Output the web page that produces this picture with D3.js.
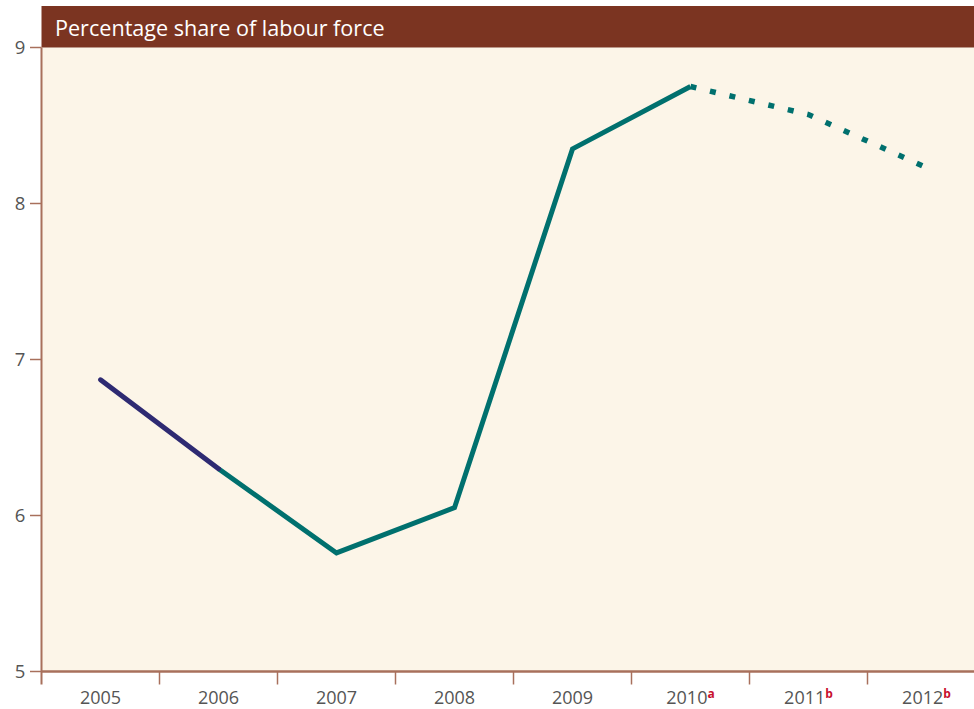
<!DOCTYPE html>
<html>
<head>
<meta charset="utf-8">
<script src="https://cdn.jsdelivr.net/npm/d3@7"></script>
<style>
  body { margin: 0; background: #fff; }
  svg { display: block; }
</style>
</head>
<body>
<div id="chart"></div>
<script>
// data
var years  = ["2005", "2006", "2007", "2008", "2009", "2010", "2011", "2012"];
var notes  = ["", "", "", "", "", "a", "b", "b"];
var values = [6.87, 6.30, 5.76, 6.05, 8.35, 8.75, 8.57, 8.23];
var yTicks = [5, 6, 7, 8, 9];
var title  = "Percentage share of labour force";

var width = 974, height = 709;
var plotLeft = 41.5, plotTop = 47.5, plotBottom = 671.5;

var svg = d3.select("#chart").append("svg")
  .attr("width", width)
  .attr("height", height);

var x = d3.scaleBand().domain(years).range([plotLeft, plotLeft + 118 * years.length]);
var y = d3.scaleLinear().domain([5, 9]).range([plotBottom, plotTop]);
var cx = function(d) { return x(d) + x.bandwidth() / 2; };

var axisColor = "#a8705c";
var textColor = "#555555";
var font = "'Open Sans', 'Noto Sans', sans-serif";

// plot background
svg.append("rect")
  .attr("x", plotLeft).attr("y", plotTop)
  .attr("width", width - plotLeft).attr("height", plotBottom - plotTop)
  .attr("fill", "#fcf5e8");

// title banner
svg.append("rect")
  .attr("x", plotLeft).attr("y", 6)
  .attr("width", width - plotLeft).attr("height", plotTop - 6)
  .attr("fill", "#7b3421");
svg.append("text")
  .attr("x", 55).attr("y", 36)
  .attr("fill", "#ffffff")
  .attr("font-family", font)
  .attr("font-size", 21.6)
  .text(title);

// y axis
svg.append("line")
  .attr("x1", plotLeft).attr("x2", plotLeft)
  .attr("y1", plotTop).attr("y2", plotBottom + 13)
  .attr("stroke", axisColor).attr("stroke-width", 2);
svg.selectAll("line.ytick")
  .data(yTicks)
  .join("line")
  .attr("class", "ytick")
  .attr("x1", 30).attr("x2", plotLeft)
  .attr("y1", d => y(d)).attr("y2", d => y(d))
  .attr("stroke", axisColor).attr("stroke-width", 1.5);
svg.selectAll("text.ylab")
  .data(yTicks)
  .join("text")
  .attr("class", "ylab")
  .attr("x", 20).attr("y", d => y(d) + 6.5)
  .attr("text-anchor", "middle")
  .attr("fill", textColor)
  .attr("font-family", font)
  .attr("font-size", 18.5)
  .text(d => d);

// x axis
svg.append("line")
  .attr("x1", plotLeft).attr("x2", width)
  .attr("y1", plotBottom).attr("y2", plotBottom)
  .attr("stroke", axisColor).attr("stroke-width", 2.5);
svg.selectAll("line.xtick")
  .data(years.slice(1))
  .join("line")
  .attr("class", "xtick")
  .attr("x1", d => x(d)).attr("x2", d => x(d))
  .attr("y1", plotBottom).attr("y2", plotBottom + 13)
  .attr("stroke", axisColor).attr("stroke-width", 1.5);

var xl = svg.selectAll("text.xlab")
  .data(years)
  .join("text")
  .attr("class", "xlab")
  .attr("x", d => cx(d)).attr("y", 704)
  .attr("text-anchor", "middle")
  .attr("fill", textColor)
  .attr("font-family", font)
  .attr("font-size", 18);
xl.append("tspan").text(d => d);
xl.append("tspan")
  .attr("dy", -6)
  .attr("font-size", 12)
  .attr("font-weight", "bold")
  .attr("fill", "#c8102e")
  .text((d, i) => notes[i]);

// lines
var pts = years.map((d, i) => [cx(d), y(values[i])]);
var line = d3.line();

svg.append("path")
  .attr("d", line(pts.slice(1, 6)))
  .attr("fill", "none")
  .attr("stroke", "#00706e")
  .attr("stroke-width", 5)
  .attr("stroke-linejoin", "miter");

svg.append("path")
  .attr("d", line(pts.slice(5, 8)))
  .attr("fill", "none")
  .attr("stroke", "#00706e")
  .attr("stroke-width", 5.5)
  .attr("stroke-dasharray", "6,14");

svg.append("path")
  .attr("d", line(pts.slice(0, 2)))
  .attr("fill", "none")
  .attr("stroke", "#2e2a72")
  .attr("stroke-width", 5)
  .attr("stroke-linecap", "round");
</script>
</body>
</html>
